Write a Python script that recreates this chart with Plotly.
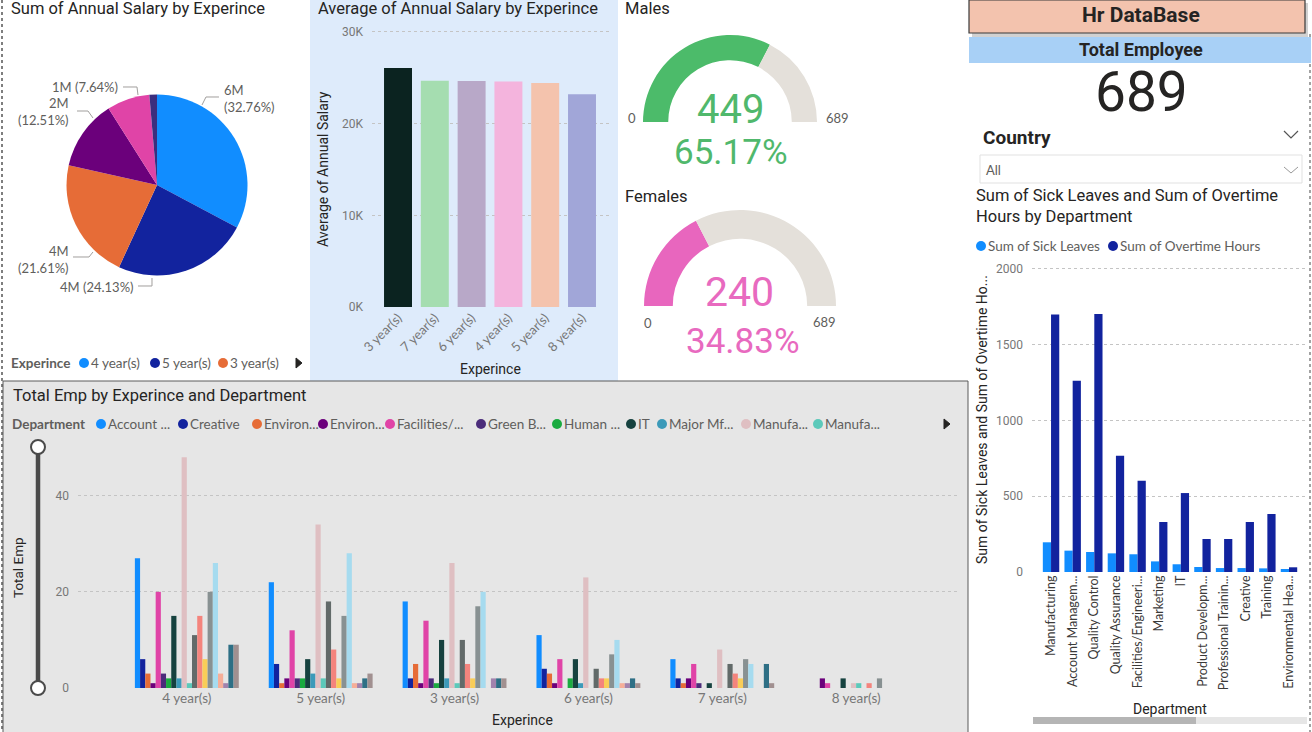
import plotly.graph_objects as go

W, H = 1312, 732
def X(p): return p / W
def Y(p): return 1 - p / H

TF = "Roboto, DejaVu Sans, sans-serif"      # DIN-like titles
BF = "Lato, Open Sans, sans-serif"           # Segoe-like body
DARK = "#252423"
GRAY = "#605E5C"
TICK = "#777777"

# ---------------- data ----------------
experience = ["4 year(s)", "5 year(s)", "3 year(s)", "6 year(s)", "7 year(s)", "8 year(s)"]
salary_sum = [5995080, 4415790, 3954630, 2289330, 1398120, 247050]
pie_colors = ["#118DFF", "#12239E", "#E66C37", "#6B007B", "#E044A7", "#3B2E7E"]

avg_exp = ["3 year(s)", "7 year(s)", "6 year(s)", "4 year(s)", "5 year(s)", "8 year(s)"]
avg_salary = [26070, 24680, 24650, 24600, 24430, 23220]
avg_colors = ["#0B2320", "#A5DDB0", "#B8A8C8", "#F4B4DD", "#F4C3AD", "#A1A6D8"]

males = 449
females = 240
total_emp = males + females

dept_short = ["Manufacturing", "Account Managem...", "Quality Control", "Quality Assurance",
              "Facilities/Engineeri...", "Marketing", "IT", "Product Developm...",
              "Professional Trainin...", "Creative", "Training", "Environmental Hea..."]
sick_leaves = [196, 141, 132, 123, 117, 70, 51, 33, 26, 26, 24, 20]
overtime_hours = [1700, 1263, 1702, 768, 603, 330, 521, 218, 218, 330, 383, 31]

emp_groups = ["4 year(s)", "5 year(s)", "3 year(s)", "6 year(s)", "7 year(s)", "8 year(s)"]
departments = ["Account Management", "Creative", "Environmental Compliance",
               "Environmental Health/Safety", "Facilities/Engineering", "Green Building",
               "Human Resources", "IT", "Major Mfg Projects", "Manufacturing",
               "Manufacturing Admin", "Marketing", "Product Development",
               "Professional Training Group", "Quality Assurance", "Quality Control",
               "Research Center", "Research/Development", "Software Engineering", "Training"]
legend_labels = ["Account ...", "Creative", "Environ...", "Environ...", "Facilities/...",
                 "Green B...", "Human ...", "IT", "Major Mf...", "Manufa...", "Manufa..."]
dept_colors = ["#118DFF", "#12239E", "#E66C37", "#6B007B", "#E044A7", "#4B2C7A",
               "#1AAB40", "#16423F", "#3C9AB9", "#DFBFC2", "#5CC9BA", "#626A69",
               "#F4847D", "#F9CD58", "#889192", "#A6DBEF", "#F6AE98", "#A283AD",
               "#2E6F85", "#A19090"]
emp_counts = [
    [27, 22, 18, 11, 6, 0],
    [6, 5, 2, 4, 2, 0],
    [3, 1, 5, 3, 1, 0],
    [1, 2, 1, 1, 2, 2],
    [20, 12, 14, 6, 5, 1],
    [3, 2, 2, 0, 1, 0],
    [2, 2, 1, 2, 0, 0],
    [15, 6, 10, 6, 1, 2],
    [2, 3, 2, 1, 0, 0],
    [48, 34, 26, 23, 8, 1],
    [1, 2, 1, 0, 0, 1],
    [11, 18, 10, 4, 5, 0],
    [15, 8, 5, 2, 3, 1],
    [6, 2, 2, 2, 2, 0],
    [20, 15, 17, 7, 6, 2],
    [26, 28, 20, 10, 5, 0],
    [3, 1, 0, 1, 0, 0],
    [1, 1, 2, 1, 0, 0],
    [9, 2, 2, 2, 5, 0],
    [9, 3, 2, 1, 1, 0],
]

fig = go.Figure()
shapes = []
ann = []

def rect(x0, y0, x1, y1, fill, line=None, lw=0, layer="below", dash=None):
    d = dict(type="rect", xref="paper", yref="paper", x0=X(x0), x1=X(x1), y0=Y(y1), y1=Y(y0),
             fillcolor=fill, layer=layer, line=dict(width=lw, color=line or fill))
    if dash:
        d["line"]["dash"] = dash
    shapes.append(d)

def line(x0, y0, x1, y1, color, w=1, dash=None, layer="above"):
    d = dict(type="line", xref="paper", yref="paper", x0=X(x0), x1=X(x1), y0=Y(y0), y1=Y(y1),
             layer=layer, line=dict(color=color, width=w))
    if dash:
        d["line"]["dash"] = dash
    shapes.append(d)

def path(pts, color, w=1, fill=None, close=False):
    s = "M " + " L ".join(f"{X(px):.5f},{Y(py):.5f}" for px, py in pts)
    if close:
        s += " Z"
    shapes.append(dict(type="path", xref="paper", yref="paper", path=s, layer="above",
                       line=dict(color=color, width=w), fillcolor=fill or "rgba(0,0,0,0)"))

def circle(cx, cy, r, color, line_color=None, lw=0):
    shapes.append(dict(type="circle", xref="paper", yref="paper", x0=X(cx - r), x1=X(cx + r),
                       y0=Y(cy + r), y1=Y(cy - r), fillcolor=color, layer="above",
                       line=dict(width=lw, color=line_color or color)))

def txt(x, y, text, size=13, color=DARK, anchor="left", family=TF, angle=0, yanchor="middle", align=None):
    ann.append(dict(x=X(x), y=Y(y), xref="paper", yref="paper", text=text, showarrow=False,
                    xanchor=anchor, yanchor=yanchor, textangle=angle,
                    align=align or anchor if anchor != "center" else "center",
                    font=dict(family=family, size=size, color=color)))

# ---------------- backgrounds ----------------
rect(310, 0, 618, 381, "#DEEBFB")
rect(3, 381, 968, 733, "#E6E6E6", line="#5A5A5A", lw=1)
line(2, 0, 2, 732, "#555555", 1.5, "dot")
line(1310, 34, 1310, 732, "#666666", 1.2, "dot")

# ---------------- Pie: Sum of Annual Salary ----------------
fig.add_trace(go.Pie(labels=experience, values=salary_sum, sort=False, direction="clockwise",
                     rotation=0, marker=dict(colors=pie_colors, line=dict(width=0)),
                     textinfo="none", showlegend=False,
                     domain=dict(x=[X(66.5), X(247.5)], y=[Y(275.5), Y(94.5)])))
txt(9, 9, "Sum of Annual Salary by Experince", 16.5)
tot = sum(salary_sum)
lab_m = [f"{v/1e6:.0f}M" for v in salary_sum]
lab_p = [f"({v/tot*100:.2f}%)" for v in salary_sum]
LS = 13
txt(222, 98, f"{lab_m[0]}<br>{lab_p[0]}", LS, GRAY, "left", BF)
path([(202, 105), (206, 97), (219, 97)], "#A19F9D")
txt(136, 287, f"{lab_m[1]} {lab_p[1]}", LS, GRAY, "right", BF)
path([(138, 286), (152, 286), (152, 278)], "#A19F9D")
txt(71, 259, f"{lab_m[2]}<br>{lab_p[2]}", LS, GRAY, "right", BF)
path([(73, 257), (89, 257), (93, 252)], "#A19F9D")
txt(71, 112, f"{lab_m[3]}<br>{lab_p[3]}", LS, GRAY, "right", BF)
path([(77, 111), (88, 111), (93, 118)], "#A19F9D")
txt(120, 87, f"{lab_m[4]} {lab_p[4]}", LS, GRAY, "right", BF)
path([(123, 87), (137, 87), (138, 95)], "#A19F9D")
# legend
txt(9, 363, "<b>Experince</b>", 13.5, GRAY, "left", BF)
for cx, i in [(84, 0), (155, 1), (223, 2)]:
    circle(cx, 363, 5, pie_colors[i])
    txt(cx + 5, 363, experience[i], 13.5, GRAY, "left", BF)
path([(296, 358), (302, 363), (296, 368)], DARK, 1, DARK, True)

# ---------------- Bar: Average of Annual Salary ----------------
fig.add_trace(go.Bar(x=avg_exp, y=avg_salary, marker=dict(color=avg_colors, line=dict(width=0)),
                     width=0.76, xaxis="x", yaxis="y", showlegend=False))
txt(316, 9, "Average of Annual Salary by Experince", 16.5)
txt(323, 169, "Average of Annual Salary", 14, DARK, "center", angle=-90)
txt(490, 369, "Experince", 14, DARK, "center")

# ---------------- Gauges ----------------
GREEN, PINK, ARC = "#4CBB6A", "#E866BE", "#E4E0DA"
fig.add_trace(go.Pie(values=[males, total_emp - males, total_emp], sort=False, direction="clockwise",
                     rotation=-90, hole=0.71, textinfo="none", hoverinfo="skip", showlegend=False,
                     marker=dict(colors=[GREEN, ARC, "rgba(0,0,0,0)"], line=dict(width=0)),
                     domain=dict(x=[X(643), X(817)], y=[Y(209), Y(35)])))
fig.add_trace(go.Pie(values=[females, total_emp - females, total_emp], sort=False, direction="clockwise",
                     rotation=-90, hole=0.70, textinfo="none", hoverinfo="skip", showlegend=False,
                     marker=dict(colors=[PINK, ARC, "rgba(0,0,0,0)"], line=dict(width=0)),
                     domain=dict(x=[X(644), X(836)], y=[Y(402), Y(210)])))
txt(623, 8, "Males", 16.5)
txt(730, 109, f"{males}", 40, "#50B86C", "center")
txt(731, 152, f"{males/total_emp*100:.2f}%", 35, "#50B86C", "center")
txt(632, 118, "0", 13, GRAY, "center", BF)
txt(837, 118, f"{total_emp}", 13, GRAY, "center", BF)
txt(623, 196, "Females", 16.5)
txt(740, 292, f"{females}", 41, "#E86ABF", "center")
txt(743, 341, f"{females/total_emp*100:.2f}%", 35, "#E86ABF", "center")
txt(648, 323, "0", 13, GRAY, "center", BF)
txt(824, 322, f"{total_emp}", 13, GRAY, "center", BF)

# ---------------- Right panel ----------------
rect(972, 3, 1308, 38, "rgba(0,0,0,0.18)", layer="above")
rect(969, 0, 1305, 33, "#F3C3AE", line="#3A3A3A", lw=1.2, layer="above")
txt(1141, 15, "<b>Hr DataBase</b>", 21, DARK, "center")
rect(969, 37, 1311, 63, "#A8D0F6", layer="above")
txt(1141, 49, "<b>Total Employee</b>", 18, DARK, "center")
txt(1141, 92, f"{total_emp}", 55, DARK, "center")
txt(981, 137, "<b>Country</b>", 19, DARK, "left")
path([(1284, 131), (1291, 138), (1298, 131)], "#555555", 1.2)
rect(980, 155, 1302, 183, "#FFFFFF", line="#E1E1E1", lw=1, layer="above")
txt(984, 170, "All", 13, GRAY, "left", BF)
path([(1284, 167), (1291, 173), (1298, 167)], "#999999", 1)
txt(974, 206, "Sum of Sick Leaves and Sum of Overtime<br>Hours by Department", 16.5, DARK, "left")
circle(981, 246, 5, "#118DFF")
txt(986, 246, "Sum of Sick Leaves", 13.5, GRAY, "left", BF)
circle(1113, 246, 5, "#12239E")
txt(1118, 246, "Sum of Overtime Hours", 13.5, GRAY, "left", BF)

fig.add_trace(go.Bar(x=dept_short, y=sick_leaves, name="Sum of Sick Leaves", marker_color="#118DFF",
                     width=0.38, offset=-0.38, xaxis="x2", yaxis="y2", showlegend=False))
fig.add_trace(go.Bar(x=dept_short, y=overtime_hours, name="Sum of Overtime Hours", marker_color="#12239E",
                     width=0.38, offset=0.0, xaxis="x2", yaxis="y2", showlegend=False))
txt(982, 420, "Sum of Sick Leaves and Sum of Overtime Ho...", 14, DARK, "center", angle=-90)
txt(1170, 709, "Department", 14, DARK, "center")
rect(1033, 717, 1307, 724, "#E6E6E6", layer="above")
rect(1033, 717, 1196, 724, "#B5B5B5", layer="above")

# ---------------- Bottom grouped bars ----------------
txt(11, 395, "Total Emp by Experince and Department", 16.5)
txt(10, 424, "<b>Department</b>", 13.5, GRAY, "left", BF)
leg_x = [101, 183, 257, 323, 390, 481, 557, 631, 662, 746, 818]
for i, cx in enumerate(leg_x):
    circle(cx, 424, 5, dept_colors[i])
    txt(cx + 5, 424, legend_labels[i], 13.5, GRAY, "left", BF)
path([(944, 419), (950, 424), (944, 429)], DARK, 1, DARK, True)

n = len(departments)
gw = 0.776
bw = gw / n
for i in range(n):
    fig.add_trace(go.Bar(x=emp_groups, y=emp_counts[i], name=departments[i],
                         marker=dict(color=dept_colors[i], line=dict(width=0)),
                         width=bw, offset=-gw / 2 + i * bw, xaxis="x3", yaxis="y3", showlegend=False))
txt(18, 568, "Total Emp", 13.5, DARK, "center", angle=-90)
txt(522, 720, "Experince", 14, DARK, "center")
line(38, 447, 38, 688, "#4A4A4A", 4.5)
circle(38, 447, 7, "#FFFFFF", "#4A4A4A", 2)
circle(38, 688, 7, "#FFFFFF", "#4A4A4A", 2)

# ---------------- axes ----------------
def cat_axis(dom, rng, anchor, angle=0, size=12, color=TICK):
    return dict(domain=[X(dom[0]), X(dom[1])], range=rng, anchor=anchor, type="category",
                tickangle=angle, showgrid=False, zeroline=False, showline=False, ticks="",
                tickfont=dict(family=BF, size=size, color=color), automargin=False, fixedrange=True)

def val_axis(dom, rng, anchor, vals, texts, standoff):
    return dict(domain=[Y(dom[0]), Y(dom[1])], range=rng, anchor=anchor, tickmode="array",
                tickvals=vals, ticktext=texts, showgrid=True, gridcolor="#C4C4C4", griddash="dot",
                gridwidth=1, zeroline=False, showline=False, ticks="", ticklabelstandoff=standoff,
                tickfont=dict(family=TF, size=12, color=TICK), automargin=False, fixedrange=True)

yt1 = [0, 10000, 20000, 30000]
yt2 = [0, 500, 1000, 1500, 2000]
yt3 = [0, 20, 40]

fig.update_layout(
    width=W, height=H, margin=dict(l=0, r=0, t=0, b=0), template="none",
    paper_bgcolor="#FFFFFF", plot_bgcolor="rgba(0,0,0,0)", barmode="overlay",
    font=dict(family=BF, color=DARK),
    xaxis=cat_axis((372, 612), [-0.707, 5.815], "y", -45, 13),
    yaxis=val_axis((307, 25), [0, 30763], "x", yt1, [f"{v//1000}K" for v in yt1], 8),
    xaxis2=cat_axis((1032, 1305), [-0.88, 11.74], "y2", -90, 12.5, "#3B3A39"),
    yaxis2=val_axis((572, 262), [0, 2046], "x2", yt2, [str(v) for v in yt2], 8),
    xaxis3=cat_axis((78, 960), [-0.813, 5.776], "y3", 0, 13.5),
    yaxis3=val_axis((688, 450), [0, 49.5], "x3", yt3, [str(v) for v in yt3], 8),
    shapes=shapes, annotations=ann, hovermode=False,
)

fig.write_html("out.html")
